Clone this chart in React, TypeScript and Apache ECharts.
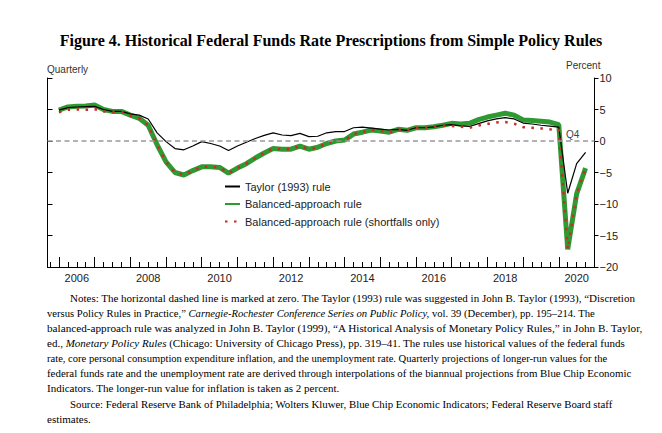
import React, { useEffect, useRef } from "react";
import * as echarts from "echarts";

const years = [2006, 2007, 2008, 2009, 2010, 2011, 2012, 2013, 2014, 2015, 2016, 2017, 2018, 2019, 2020];
const labelYears = [2006, 2008, 2010, 2012, 2014, 2016, 2018, 2020];
const yTicks = [-20, -15, -10, -5, 0, 5, 10];

const taylor = [
  4.9, 5.3, 5.4, 5.45,
  5.5, 5.0, 4.7, 4.7,
  4.3, 4.1, 3.5, 1.3,
  -0.1, -1.2, -1.4, -0.8,
  -0.1, -0.4, -0.8, -1.5,
  -0.8, -0.2, 0.4, 0.9,
  1.3, 0.95, 0.85, 1.2,
  0.7, 0.75, 1.3, 1.5,
  1.5, 2.1, 2.2, 2.05,
  1.9, 1.75, 1.85, 1.7,
  2.1, 2.1, 2.25, 2.5,
  2.6, 2.4, 2.3, 2.75,
  3.2, 3.5, 3.7, 3.5,
  2.85, 2.7, 2.5, 2.35,
  2.2, -8.3, -3.6, -1.8,
];

const balanced = [
  4.9, 5.4, 5.5, 5.55,
  5.7, 5.0, 4.7, 4.7,
  4.1, 3.6, 2.5, -0.6,
  -3.3, -5.0, -5.4, -4.7,
  -4.1, -4.1, -4.2, -5.1,
  -4.3, -3.6, -2.7, -1.9,
  -1.2, -1.3, -1.3, -0.8,
  -1.3, -1.0, -0.4, 0.0,
  0.15, 1.1, 1.4, 1.75,
  1.6, 1.4, 1.85, 1.7,
  2.1, 2.1, 2.25, 2.5,
  2.8, 2.7, 2.8, 3.4,
  3.8, 4.1, 4.4, 4.1,
  3.35, 3.25, 3.15, 3.0,
  2.6, -17.2, -8.4, -4.3,
];

const shortfalls = [
  4.55, 4.95, 5.0, 4.95,
  5.05, 4.7, 4.6, 4.6,
  4.0, 3.6, 2.5, -0.6,
  -3.3, -5.0, -5.4, -4.7,
  -4.1, -4.1, -4.2, -5.1,
  -4.3, -3.6, -2.7, -1.9,
  -1.2, -1.3, -1.3, -0.8,
  -1.3, -1.0, -0.4, 0.0,
  0.15, 1.1, 1.4, 1.75,
  1.6, 1.4, 1.85, 1.7,
  2.1, 2.1, 2.25, 2.45,
  2.4, 2.25, 2.1, 2.45,
  2.7, 2.95, 3.0, 2.75,
  2.2, 2.1, 2.0, 1.85,
  1.8, -17.2, -8.4, -4.3,
];

const seriesNames = [
  "Taylor (1993) rule",
  "Balanced-approach rule",
  "Balanced-approach rule (shortfalls only)",
];

const titleText = "Figure 4. Historical Federal Funds Rate Prescriptions from Simple Policy Rules";

function toXY(vals: number[]) {
  return vals.map((v, i) => [years[Math.floor(i / 4)] + (i % 4) / 4, v]);
}

const quarterTicks: number[] = [];
for (let y = 2005; y <= 2020; y++) {
  for (let q = 0; q < 4; q++) {
    const v = y + q / 4;
    if (v >= 2005.75 && v <= 2020.75) quarterTicks.push(v);
  }
}

const XMIN = 2005.68;
const XMAX = 2021;

const fmtY = (v: number) => (v < 0 ? "\u2212" + Math.abs(v) : String(v));

const serif = "'Liberation Serif', 'Times New Roman', serif";
const sans = "'Liberation Sans', Arial, sans-serif";

export default function App() {
  const ref = useRef<HTMLDivElement>(null);

  useEffect(() => {
    if (!ref.current) return;
    const chart = echarts.init(ref.current, undefined, { renderer: "svg" });
    chart.setOption({
      animation: false,
      title: {
        text: titleText,
        left: "center",
        top: 27,
        textStyle: { fontFamily: serif, fontWeight: "bold", fontSize: 16, color: "#000" },
      },
      grid: { left: 47.5, right: 67.5, top: 78, bottom: 166, containLabel: false },
      legend: {
        orient: "vertical",
        left: 219,
        top: 175,
        itemWidth: 15,
        itemHeight: 8,
        itemGap: 4.5,
        data: seriesNames,
        itemStyle: { opacity: 0 },
        textStyle: { fontSize: 11, lineHeight: 13, color: "#222", fontFamily: sans, padding: [0, 0, 0, 0] },
      },
      xAxis: [
        {
          type: "value",
          min: XMIN,
          max: XMAX,
          position: "bottom",
          axisLine: { show: true, onZero: false, lineStyle: { color: "#000", width: 1 } },
          axisTick: { show: true, inside: true, length: 5, customValues: quarterTicks, lineStyle: { color: "#000" } },
          axisLabel: {
            show: true,
            customValues: labelYears.map((y) => y + 0.5),
            formatter: (v: number) => String(Math.floor(v)),
            margin: 5,
            fontSize: 11,
            color: "#222",
            fontFamily: sans,
          },
          splitLine: { show: false },
        },
        {
          type: "value",
          min: XMIN,
          max: XMAX,
          position: "bottom",
          axisLine: { show: false, onZero: false },
          axisTick: { show: true, inside: true, length: 10, customValues: years, lineStyle: { color: "#000" } },
          axisLabel: { show: false },
          splitLine: { show: false },
        },
      ],
      yAxis: [
        {
          type: "value",
          min: -20,
          max: 10,
          interval: 5,
          position: "left",
          axisLine: { show: true, onZero: false, lineStyle: { color: "#000", width: 1 } },
          axisTick: { show: true, inside: true, length: 5, customValues: yTicks, lineStyle: { color: "#000" } },
          axisLabel: { show: false },
          splitLine: { show: false },
        },
        {
          type: "value",
          min: -20,
          max: 10,
          interval: 5,
          position: "right",
          axisLine: { show: true, onZero: false, lineStyle: { color: "#000", width: 1 } },
          axisTick: { show: true, inside: false, length: 4, lineStyle: { color: "#000" } },
          axisLabel: { show: true, margin: 5, align: "left", formatter: fmtY, fontSize: 11, color: "#222", fontFamily: sans },
          splitLine: { show: false },
        },
      ],
      graphic: [
        { type: "text", left: 47, top: 64, style: { text: "Quarterly", font: `10px ${sans}`, fill: "#333" } },
        { type: "text", left: 566, top: 60, style: { text: "Percent", font: `10px ${sans}`, fill: "#333" } },
        { type: "text", left: 566, top: 129, style: { text: "Q4", font: `10px ${sans}`, fill: "#444" } },
      ],
      series: [
        {
          name: "zero",
          type: "line",
          data: [],
          silent: true,
          markLine: {
            silent: true,
            symbol: "none",
            label: { show: false },
            lineStyle: { type: [5, 3.5], color: "#999", width: 1.5 },
            data: [{ yAxis: 0 }],
          },
        },
        {
          name: seriesNames[1],
          type: "line",
          data: toXY(balanced),
          showSymbol: false,
          symbol: "none",
          lineStyle: { color: "#2f9a31", width: 5 },
          itemStyle: { color: "#2f9a31" },
        },
        {
          name: seriesNames[0],
          type: "line",
          data: toXY(taylor),
          showSymbol: false,
          symbol: "none",
          lineStyle: { color: "#000", width: 1.2 },
          itemStyle: { color: "#000" },
        },
        {
          name: seriesNames[2],
          type: "line",
          data: toXY(shortfalls),
          showSymbol: false,
          symbol: "none",
          lineStyle: { color: "#cc2a2a", width: 2.5, type: [2.5, 6.5] },
          itemStyle: { color: "#cc2a2a" },
        },
      ],
    });
    return () => chart.dispose();
  }, []);

  const noteStyle: React.CSSProperties = {
    position: "absolute",
    whiteSpace: "nowrap",
    fontFamily: serif,
    fontSize: 11,
    lineHeight: "14px",
    color: "#000",
    transformOrigin: "0 50%",
  };
  const lines: { top: number; left: number; sx?: number; content: React.ReactNode }[] = [
    { top: 291, left: 70, content: <>Notes: The horizontal dashed line is marked at zero. The Taylor (1993) rule was suggested in John B. Taylor (1993), “Discretion</> },
    { top: 306, left: 47, sx: 0.965, content: <>versus Policy Rules in Practice,” <i>Carnegie-Rochester Conference Series on Public Policy,</i> vol. 39 (December), pp. 195–214. The</> },
    { top: 321, left: 47, sx: 1.018, content: <>balanced-approach rule was analyzed in John B. Taylor (1999), “A Historical Analysis of Monetary Policy Rules,” in John B. Taylor,</> },
    { top: 336, left: 47, content: <>ed., <i>Monetary Policy Rules</i> (Chicago: University of Chicago Press), pp. 319–41. The rules use historical values of the federal funds</> },
    { top: 351, left: 47, sx: 0.96, content: <>rate, core personal consumption expenditure inflation, and the unemployment rate. Quarterly projections of longer-run values for the</> },
    { top: 366, left: 47, sx: 0.988, content: <>federal funds rate and the unemployment rate are derived through interpolations of the biannual projections from Blue Chip Economic</> },
    { top: 381, left: 47, content: <>Indicators. The longer-run value for inflation is taken as 2 percent.</> },
    { top: 397, left: 70, sx: 0.984, content: <>Source: Federal Reserve Bank of Philadelphia; Wolters Kluwer, Blue Chip Economic Indicators; Federal Reserve Board staff</> },
    { top: 412, left: 47, content: <>estimates.</> },
  ];

  return (
    <div style={{ position: "absolute", left: 0, top: 0, width: 662, height: 433, background: "#fff", overflow: "hidden" }}>
      <div ref={ref} style={{ position: "absolute", left: 0, top: 0, width: 662, height: 433 }} />
      {lines.map((l, i) => (
        <div
          key={i}
          style={{ ...noteStyle, top: l.top, left: l.left, transform: l.sx ? `scaleX(${l.sx})` : undefined }}
        >
          {l.content}
        </div>
      ))}
    </div>
  );
}
